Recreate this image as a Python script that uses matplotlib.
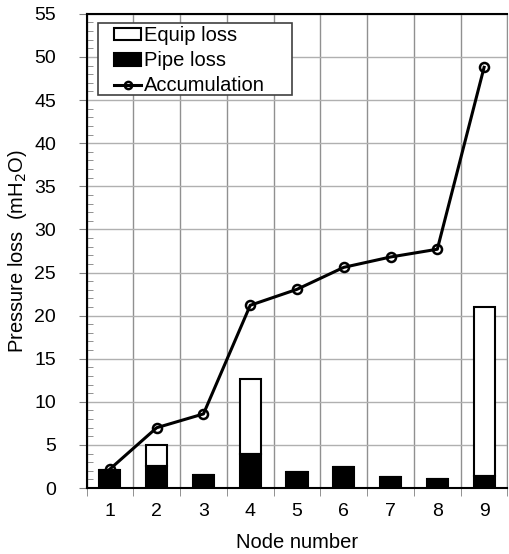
import numpy as np
import matplotlib.pyplot as plt
from matplotlib.patches import Rectangle
from matplotlib.ticker import MultipleLocator, FixedLocator

plt.rcParams['font.family'] = ['Liberation Sans', 'DejaVu Sans']

nodes = [1, 2, 3, 4, 5, 6, 7, 8, 9]
pipe_loss = [2.1, 2.6, 1.55, 4.0, 1.9, 2.5, 1.25, 1.1, 1.45]
equip_loss = [0.0, 2.35, 0.0, 8.7, 0.0, 0.0, 0.0, 0.0, 19.55]
accumulation = [2.2, 7.0, 8.6, 21.2, 23.05, 25.6, 26.8, 27.7, 48.8]

fig, ax = plt.subplots(figsize=(5.09, 5.54), dpi=100)
fig.subplots_adjust(left=0.17, right=0.997, top=0.975, bottom=0.119)

x = np.array(nodes)
b1 = ax.bar(x, equip_loss, 0.45, bottom=pipe_loss, color='white', edgecolor='black',
            linewidth=1.5, label='Equip loss', zorder=3)
b2 = ax.bar(x, pipe_loss, 0.45, color='black', edgecolor='black', linewidth=1.5,
            label='Pipe loss', zorder=3)
l1, = ax.plot(x, accumulation, color='black', linewidth=2.2, marker='o', markersize=6.5,
              markerfacecolor='none', markeredgewidth=1.8, label='Accumulation', zorder=4)

ax.set_xlim(0.5, 9.5)
ax.set_ylim(0, 55)
ax.set_xticks(nodes)
ax.xaxis.set_minor_locator(FixedLocator(np.arange(0.5, 9.6, 1)))
ax.tick_params(axis='x', which='major', length=0, labelsize=14, pad=11)
ax.tick_params(axis='x', which='minor', length=6, direction='out', color='#808080')
ax.yaxis.set_major_locator(MultipleLocator(5))
ax.yaxis.set_minor_locator(MultipleLocator(1))
ax.tick_params(axis='y', which='major', length=6, labelsize=14, pad=16, color='#808080')
ax.tick_params(axis='y', which='minor', length=4, direction='in', color='#808080')

ax.grid(True, axis='y', which='major', color='#b0b0b0', linewidth=1, zorder=0)
ax.grid(True, axis='x', which='minor', color='#909090', linewidth=1, zorder=0)
ax.set_axisbelow(True)

for side in ['top', 'left', 'bottom']:
    ax.spines[side].set_linewidth(1.5)
ax.spines['right'].set_color('#909090')

ax.set_xlabel('Node number', fontsize=14.5, labelpad=9)
ax.set_ylabel('Pressure loss  (mH$_2$O)', fontsize=14.5, labelpad=4)

# legend frame drawn separately so there is room on the left like the original
ax.add_patch(Rectangle((0.027, 0.829), 0.461, 0.152, transform=ax.transAxes,
                       facecolor='white', edgecolor='#404040', linewidth=1.2, zorder=5))
leg = ax.legend([b1, b2, l1], ['Equip loss', 'Pipe loss', 'Accumulation'],
                loc='upper left', bbox_to_anchor=(0.066, 0.974), fontsize=14.5,
                frameon=False, handlelength=1.35, handleheight=0.6,
                handletextpad=0.1, borderpad=0, labelspacing=0.3,
                borderaxespad=0, markerscale=0.8)
leg.set_zorder(6)

plt.savefig('out.png')
